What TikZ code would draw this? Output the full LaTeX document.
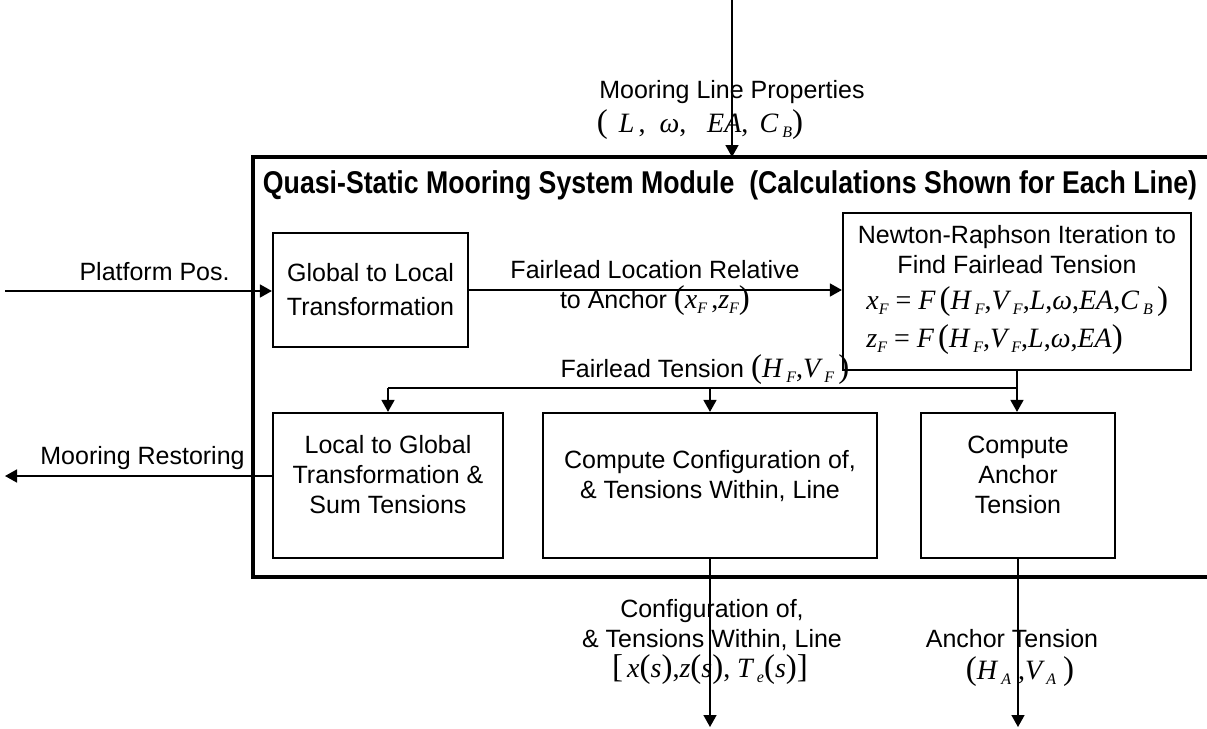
\documentclass[tikz,border=0pt]{standalone}
\usepackage{fontspec}
\setmainfont{Liberation Sans}
\newfontfamily\mf{Liberation Serif}
\usetikzlibrary{arrows.meta,fit}
\newcommand{\mi}[1]{{\mf\itshape\fontsize{14}{15}\selectfont #1}}
\newcommand{\mr}[1]{{\mf\fontsize{14}{15}\selectfont #1}}
\newcommand{\bp}[1]{{\mf\fontsize{16.5}{15}\selectfont #1}}
\newcommand{\sbs}[1]{\raisebox{-2.5pt}{\mf\itshape\fontsize{8}{9}\selectfont #1}}
\begin{document}
\begin{tikzpicture}[x=0.5pt,y=-0.5pt,
  every node/.style={font=\fontsize{12.5}{15}\selectfont},
  box/.style={draw, line width=1.1pt, inner sep=0pt, align=center},
  arr/.style={line width=0.8pt, -{Triangle[length=6pt,width=6.5pt]}},
  ln/.style={line width=0.8pt},
  lbl/.style={inner sep=0pt, align=center}]
\useasboundingbox (0,0) rectangle (1207,729);
% outer module frame (right side cut off by the page)
\draw[line width=2.2pt] (1210,157) -- (253,157) -- (253,577) -- (1210,577);
\node[lbl, font=\bfseries\fontsize{12.5}{15}\selectfont] (title) at (730,185)
  {\scalebox{1}[1.18]{\resizebox{467pt}{!}{Quasi-Static Mooring System Module\ \ (Calculations Shown for Each Line)}}};
% boxes
\node[box, fit={(273,233) (468,347)}] (A) {};
\node[lbl] at (A.center) {Global to Local\\[2pt]Transformation};
\node[box, fit={(843,213) (1191,370)}] (NR) {};
\node[lbl] at (1017,250) {Newton-Raphson Iteration to\\Find Fairlead Tension};
\node[lbl, anchor=west] (eqx) at (866,302) {\mi{x}\sbs{F} \mr{=} \mi{F}\,\bp{(}\mi{H}\,\sbs{F}\mr{,}\mi{V}\,\sbs{F}\mr{,}\mi{L}\mr{,}\mi{ω}\mr{,}\mi{EA}\mr{,}\mi{C}\,\sbs{B}\,\bp{)}};
\node[lbl, anchor=west] (eqz) at (866,340) {\mi{z}\sbs{F} \mr{=} \mi{F}\,\bp{(}\mi{H}\,\sbs{F}\mr{,}\mi{V}\,\sbs{F}\mr{,}\mi{L}\mr{,}\mi{ω}\mr{,}\mi{EA}\bp{)}};
\node[box, fit={(273,413) (503,558)}] (D) {};
\node[lbl] at (388,475) {Local to Global\\Transformation \&\\Sum Tensions};
\node[box, fit={(543,413) (877,558)}] (E) {};
\node[lbl] at (710,476) {Compute Configuration of,\\\& Tensions Within, Line};
\node[box, fit={(921,413) (1115,558)}] (F) {};
\node[lbl] at (1018,475) {Compute\\Anchor\\Tension};
% free ends
\coordinate (tin) at (732,0);
\coordinate (modtop) at (732,157);
\coordinate (pin) at (5,291);
\coordinate (mout) at (5,476);
\coordinate (split) at (1017,388);
\coordinate (eout) at (710,727);
\coordinate (fout) at (1018,727);
% connectors
\draw[arr] (tin) -- (modtop);
\draw[arr] (pin) -- (pin -| A.west);
\draw[arr] (A.east) -- (A.east -| NR.west);
\draw[ln] (NR.south) -- (split);
\draw[arr] (split) -- (split |- F.north);
\draw[ln] (split) -- (split -| D.north);
\draw[arr] (split -| D.north) -- (D.north);
\draw[arr] (split -| E.north) -- (E.north);
\draw[arr] (mout -| D.west) -- (mout);
\draw[arr] (E.south -| eout) -- (eout);
\draw[arr] (F.south -| fout) -- (fout);
% labels
\node[lbl] (lprop) at (732,92) {Mooring Line Properties};
\node[lbl] (lpropm) at (700,125) {\bp{(}\, \mi{L}\,\mr{,}\; \mi{ω}\mr{,}\ \ \ \mi{EA}\mr{,}\, \mi{C}\,\sbs{B}\bp{)}};
\node[lbl, anchor=east] (lplat) at (230,272) {Platform Pos.};
\node[lbl] (lfl) at (655,288) {Fairlead Location Relative\\to Anchor \bp{(}\mi{x}\sbs{F}\,\mr{,}\mi{z}\sbs{F}\bp{)}};
\node[lbl] (lft) at (705,370) {Fairlead Tension \bp{(}\mi{H}\,\sbs{F}\mr{,}\mi{V}\,\sbs{F}\,\bp{)}};
\node[lbl, anchor=west] (lmr) at (40,458) {Mooring Restoring};
\node[lbl] (lconf) at (712,625) {Configuration of,\\\& Tensions Within, Line};
\node[lbl] (lconfm) at (710,670) {\bp{[}\,\mi{x}\bp{(}\mi{s}\bp{)}\mr{,}\mi{z}\bp{(}\mi{s}\bp{)}\mr{,}\ \mi{T}\,\sbs{e}\bp{(}\mi{s}\bp{)}\bp{]}};
\node[lbl] (lanc) at (1012,639) {Anchor Tension};
\node[lbl] (lancm) at (1020,672) {\bp{(}\mi{H}\,\sbs{A}\;\mr{,}\mi{V}\,\sbs{A}\;\bp{)}};
\end{tikzpicture}
\end{document}
